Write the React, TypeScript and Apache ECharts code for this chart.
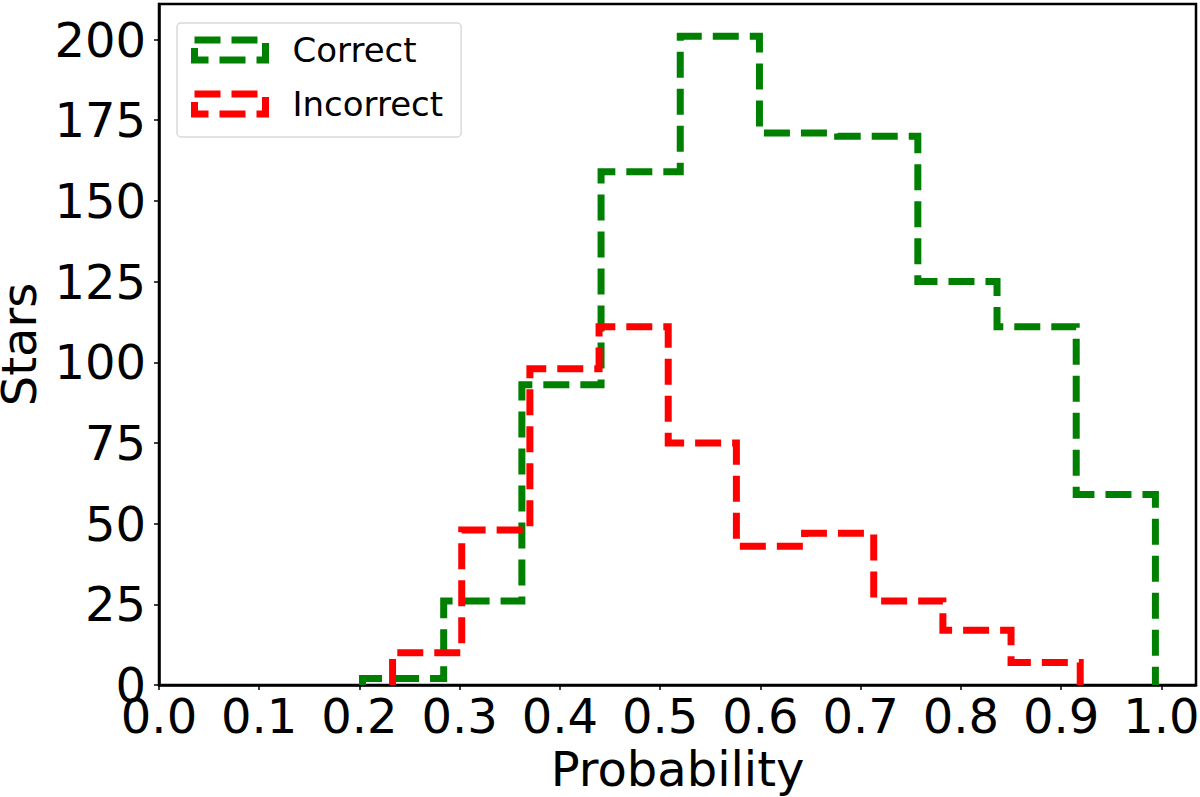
import React, { useEffect, useRef } from "react";
import * as echarts from "echarts";

const correctEdges = [0.203, 0.284, 0.362, 0.441, 0.52, 0.599, 0.677, 0.757, 0.836, 0.915, 0.994];
const correctCounts = [2, 26, 93, 159, 201, 171, 170, 125, 111, 59];
const incorrectEdges = [0.233, 0.302, 0.37, 0.439, 0.508, 0.576, 0.644, 0.713, 0.782, 0.85, 0.919];
const incorrectCounts = [10, 48, 98, 111, 75, 43, 47, 26, 17, 7];
const xTickStep = 0.1;
const yTickStep = 25;

function stepPoints(edges: number[], counts: number[]): number[][] {
  const pts: number[][] = [[edges[0], 0]];
  counts.forEach((c, i) => {
    pts.push([edges[i], c]);
    pts.push([edges[i + 1], c]);
  });
  pts.push([edges[edges.length - 1], 0]);
  return pts;
}

const FONT = "DejaVu Sans";

export default function App() {
  const ref = useRef<HTMLDivElement>(null);
  useEffect(() => {
    if (!ref.current) return;
    const chart = echarts.init(ref.current, null, { renderer: "svg" });
    const dash = { width: 7, type: [26, 11] as any, cap: "butt" as const, join: "miter" as const };
    chart.setOption({
      animation: false,
      backgroundColor: "#fff",
      grid: {
        left: 159,
        right: 4,
        top: 4,
        bottom: 112,
        containLabel: false,
        outerBoundsMode: "none",
        show: true,
        borderColor: "#000",
        borderWidth: 2.5,
        backgroundColor: "transparent",
      },
      legend: {
        orient: "vertical",
        left: 177,
        top: 23,
        padding: [10, 18, 16, 14],
        itemGap: 20,
        itemWidth: 71,
        itemHeight: 20,
        icon: "rect",
        backgroundColor: "rgba(255,255,255,0.8)",
        borderColor: "#d9d9d9",
        borderWidth: 1.5,
        borderRadius: 4,
        formatter: "{a|{name}}",
        textStyle: {
          color: "#000",
          fontFamily: FONT,
          fontSize: 34,
          rich: { a: { fontFamily: FONT, fontSize: 34, color: "#000", padding: [0, 0, 0, 22] } },
        },
        data: [
          {
            name: "Correct",
            itemStyle: { color: "rgba(0,0,0,0)", borderColor: "#008000", borderWidth: 7, borderType: [26, 11] },
          },
          {
            name: "Incorrect",
            itemStyle: { color: "rgba(0,0,0,0)", borderColor: "#ff0000", borderWidth: 7, borderType: [26, 11] },
          },
        ],
      },
      xAxis: {
        type: "value",
        min: 0,
        max: 1.0345,
        interval: xTickStep,
        name: "Probability",
        nameLocation: "middle",
        nameGap: 41,
        nameTextStyle: { fontFamily: FONT, fontSize: 48, color: "#000" },
        splitLine: { show: false },
        axisLine: { show: true, lineStyle: { color: "#000", width: 2.5 } },
        axisTick: { show: true, inside: false, length: 5, lineStyle: { color: "#000", width: 1.5 } },
        axisLabel: {
          margin: 7,
          fontFamily: FONT,
          fontSize: 48,
          color: "#000",
          showMaxLabel: false,
          hideOverlap: false,
          formatter: (v: number) =>
            Math.abs(v / xTickStep - Math.round(v / xTickStep)) < 1e-6 ? v.toFixed(1) : "",
        },
      },
      yAxis: {
        type: "value",
        min: 0,
        max: 211,
        interval: yTickStep,
        name: "Stars",
        nameLocation: "middle",
        nameGap: 112,
        nameTextStyle: { fontFamily: FONT, fontSize: 48, color: "#000" },
        splitLine: { show: false },
        axisLine: { show: true, lineStyle: { color: "#000", width: 2.5 } },
        axisTick: { show: true, inside: false, length: 5, lineStyle: { color: "#000", width: 1.5 } },
        axisLabel: {
          margin: 13,
          fontFamily: FONT,
          fontSize: 48,
          color: "#000",
          showMaxLabel: false,
          hideOverlap: false,
          formatter: (v: number) => (v % yTickStep === 0 ? String(v) : ""),
        },
      },
      series: [
        {
          name: "Correct",
          type: "line",
          symbol: "none",
          color: "#008000",
          lineStyle: { color: "#008000", ...dash },
          data: stepPoints(correctEdges, correctCounts),
          z: 2,
        },
        {
          name: "Incorrect",
          type: "line",
          symbol: "none",
          color: "#ff0000",
          lineStyle: { color: "#ff0000", ...dash },
          data: stepPoints(incorrectEdges, incorrectCounts),
          z: 3,
        },
      ],
    });
    return () => chart.dispose();
  }, []);
  return (
    <div
      ref={ref}
      style={{ position: "fixed", left: 0, top: 0, width: 1200, height: 797 }}
    />
  );
}
